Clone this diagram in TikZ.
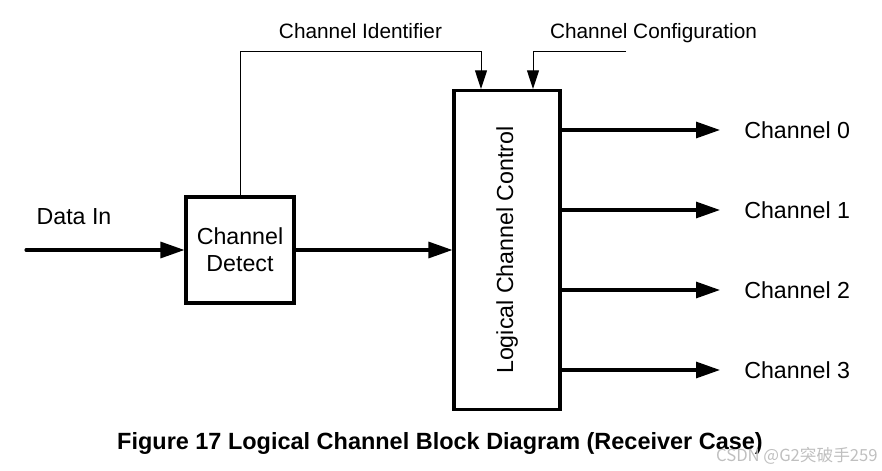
\documentclass[tikz,border=0pt]{standalone}
\usepackage{fontspec}
\setmainfont{Liberation Sans}
\newfontfamily\cjkfont{Noto Sans CJK SC}
\usetikzlibrary{arrows.meta}
\tikzset{
  px/.style={x=0.75pt,y=-0.75pt},
  blockbox/.style={draw,line width=2.3pt,inner sep=0pt,align=center,font=\fontsize{17.4}{20.5}\selectfont},
  thickarrow/.style={line width=2.3pt,-{Triangle[length=18pt,width=12pt]}},
  thinarrow/.style={line width=0.75pt,-{Triangle[length=14pt,width=9pt]}},
  biglabel/.style={inner sep=0pt,font=\fontsize{17.4}{20.5}\selectfont},
  toplabel/.style={inner sep=0pt,anchor=base,font=\fontsize{15.6}{18}\selectfont},
}
\begin{document}
\begin{tikzpicture}[px]
\useasboundingbox (0,0) rectangle (882,471);
% blocks
\node[blockbox,minimum width=81pt,minimum height=79.5pt] (cd) at (240,250) {Channel\\Detect};
\node[blockbox,minimum width=79.5pt,minimum height=239.25pt] (lcc) at (507,250) {};
\node[biglabel,rotate=90] (lcctext) at (lcc.center) {Logical Channel Control};
% input
\coordinate (din) at (26,250);
\node[biglabel] (datain) at (74,217) {Data In};
\draw[thickarrow,line cap=round] (din) -- (cd.west);
\draw[thickarrow] (cd.east) -- (lcc.west);
% top inputs
\coordinate (idk) at (481,51);
\coordinate (cfg) at (626,51);
\coordinate (cfgk) at (533,51);
\draw[thinarrow] (cd.north) |- (idk) -- (idk |- lcc.north);
\draw[thinarrow] (cfg) -- (cfgk) -- (cfgk |- lcc.north);
\node[toplabel] (cid) at (360.5,38.5) {Channel Identifier};
\node[toplabel] (ccfg) at (653.5,38.5) {Channel Configuration};
% outputs
\foreach \i/\y in {0/130,1/210,2/290,3/370}{
  \coordinate (o\i) at (720,\y);
  \draw[thickarrow] (lcc.east |- o\i) -- (o\i);
  \node[biglabel,anchor=west] (ch\i) at (744,\y) {Channel \i};
}
% caption
\node[inner sep=0pt,anchor=base,font=\fontsize{17.6}{21}\selectfont\bfseries] (cap) at (440,449) {Figure 17 Logical Channel Block Diagram (Receiver Case)};
\node[inner sep=0pt,anchor=base east,text=black!25,font=\cjkfont\fontsize{12.5}{14}\selectfont] (wm) at (878,461) {CSDN @G2突破手259};
\end{tikzpicture}
\end{document}
